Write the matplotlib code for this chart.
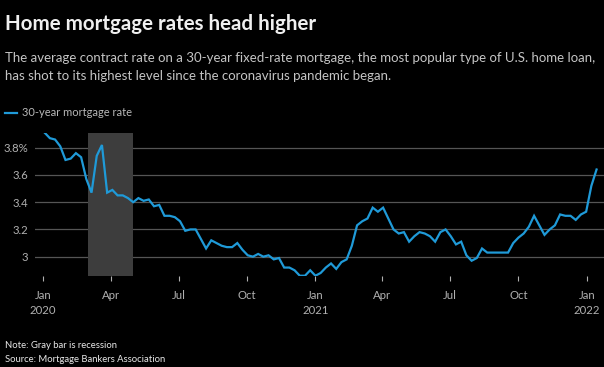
import numpy as np
import pandas as pd
import matplotlib
matplotlib.use("Agg")
import matplotlib.pyplot as plt
import matplotlib.dates as mdates

# weekly MBA 30-year fixed contract rate, Fridays from Jan 3 2020
week_start = "2020-01-03"
rates = [
    3.91, 3.87, 3.86, 3.81, 3.71, 3.72, 3.76, 3.73, 3.57, 3.47,
    3.74, 3.82, 3.47, 3.49, 3.45, 3.45, 3.43, 3.40, 3.43, 3.41,
    3.42, 3.37, 3.38, 3.30, 3.30, 3.29, 3.26, 3.19, 3.20, 3.20,
    3.13, 3.06, 3.12, 3.10, 3.08, 3.07, 3.07, 3.10, 3.05, 3.01,
    3.00, 3.02, 3.00, 3.01, 2.98, 2.99, 2.92, 2.92, 2.90, 2.86,
    2.86, 2.90, 2.86, 2.88, 2.92, 2.95, 2.91, 2.96, 2.98, 3.08,
    3.23, 3.26, 3.28, 3.36, 3.33, 3.36, 3.28, 3.20, 3.17, 3.18,
    3.11, 3.15, 3.18, 3.17, 3.15, 3.11, 3.18, 3.20, 3.15, 3.09,
    3.11, 3.01, 2.97, 2.99, 3.06, 3.03, 3.03, 3.03, 3.03, 3.03,
    3.10, 3.14, 3.17, 3.22, 3.30, 3.23, 3.16, 3.20, 3.23, 3.31,
    3.30, 3.30, 3.27, 3.31, 3.33, 3.52, 3.64,
]
dates = pd.date_range(week_start, periods=len(rates), freq="7D")

recession = ("2020-03-01", "2020-05-01")

y_ticks = [3.0, 3.2, 3.4, 3.6, 3.8]
y_labels = ["3", "3.2", "3.4", "3.6", "3.8%"]
x_ticks = pd.to_datetime(["2020-01-01", "2020-04-01", "2020-07-01", "2020-10-01",
                          "2021-01-01", "2021-04-01", "2021-07-01", "2021-10-01",
                          "2022-01-01"])
x_labels = ["Jan\n2020", "Apr", "Jul", "Oct", "Jan\n2021", "Apr", "Jul", "Oct", "Jan\n2022"]

W, H = 604, 367
BLUE = "#1f9ad8"
FONT = "Lato"


def px(x, y):
    return x / W, 1 - y / H


fig = plt.figure(figsize=(W / 100, H / 100), dpi=100, facecolor="black")
ax = fig.add_axes([35 / W, 1 - 276 / H, (W - 35) / W, (276 - 133) / H])
ax.set_facecolor("black")

ax.axvspan(pd.Timestamp(recession[0]), pd.Timestamp(recession[1]),
           color="#3d3d3d", zorder=2, lw=0)
ax.plot(dates, rates, color=BLUE, lw=1.6, zorder=3, solid_joinstyle="miter")

ax.set_xlim(pd.Timestamp("2019-12-21"), pd.Timestamp("2022-01-24"))
ax.set_ylim(2.858, 3.908)

ax.set_yticks(y_ticks)
ax.set_yticklabels(y_labels)
ax.set_xticks(x_ticks)
ax.set_xticklabels(x_labels)
ax.yaxis.grid(True, color="#555555", lw=0.9, zorder=1)
ax.set_axisbelow(True)
for s in ax.spines.values():
    s.set_visible(False)
ax.tick_params(axis="y", length=0, pad=5, labelsize=8.2, labelcolor="#b0b0b0")
ax.tick_params(axis="x", length=3.5, width=0.8, color="#b0b0b0", pad=6.5,
               labelsize=8.2, labelcolor="#b0b0b0")
for lab in ax.get_xticklabels() + ax.get_yticklabels():
    lab.set_family(FONT)
    lab.set_linespacing(1.5)

fig.text(*px(5, 30), "Home mortgage rates head higher", color="#f0f0f0",
         fontsize=14.8, fontweight="bold", family=FONT, va="baseline")
fig.text(*px(5, 62), "The average contract rate on a 30-year fixed-rate mortgage, "
         "the most popular type of U.S. home loan,", color="#c4c4c4",
         fontsize=9.5, family=FONT, va="baseline")
fig.text(*px(5, 80), "has shot to its highest level since the coronavirus pandemic began.",
         color="#c4c4c4", fontsize=9.5, family=FONT, va="baseline")

fig.add_artist(plt.Line2D([5 / W, 17 / W], [1 - 113 / H] * 2, color=BLUE, lw=1.6))
fig.text(*px(22, 113), "30-year mortgage rate", color="#b8b8b8", fontsize=8,
         family=FONT, va="center")

fig.text(*px(5, 348), "Note: Gray bar is recession", color="#e8e8e8",
         fontsize=6.8, family=FONT, va="baseline")
fig.text(*px(5, 362), "Source: Mortgage Bankers Association", color="#e8e8e8",
         fontsize=6.8, family=FONT, va="baseline")

fig.savefig("out.png", dpi=100, facecolor="black")
